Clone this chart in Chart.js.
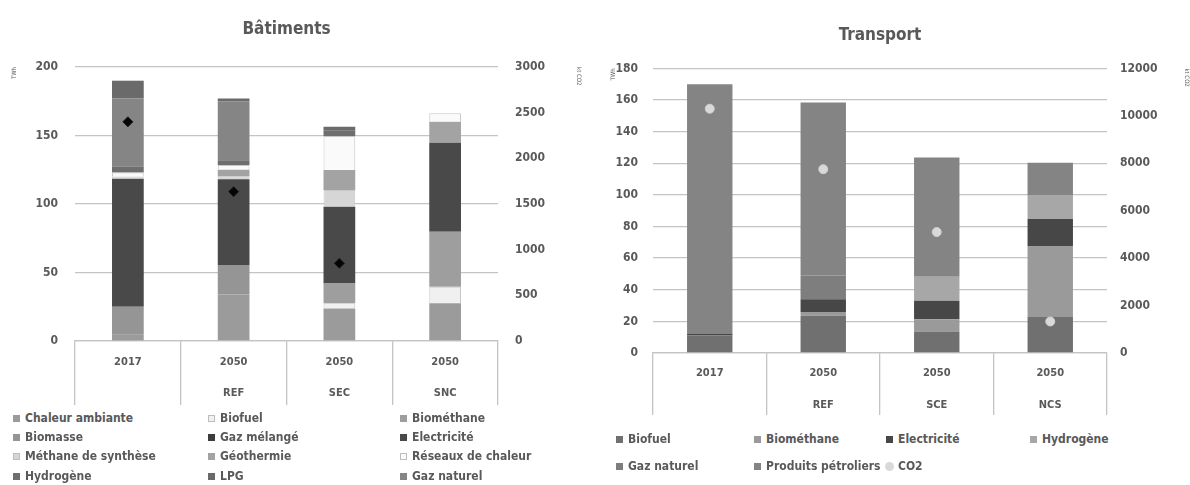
<!DOCTYPE html>
<html>
<head>
<meta charset="utf-8">
<script src="https://cdn.jsdelivr.net/npm/chart.js@4.4.1/dist/chart.umd.min.js"></script>
<style>
  body { margin: 0; width: 1190px; height: 485px; background: #fff; position: relative; overflow: hidden; }
  #wrapBat { position: absolute; left: 0; top: 0; }
  #wrapTra { position: absolute; left: 590px; top: 0; }
  .leg { position: absolute; height: 16px; line-height: 16px; white-space: nowrap; color: #595959;
         font: bold 12px "DejaVu Sans Condensed", "Liberation Sans Narrow", sans-serif; padding-left: 12px; }
  .leg i { position: absolute; left: 0; top: 4px; width: 7px; height: 7px; box-sizing: border-box; }
  .leg i.dot { border-radius: 50%; width: 9px; height: 9px; top: 3px; left: -1px; }
</style>
</head>
<body>
<div id="wrapBat"><canvas id="batiments" width="590" height="410"></canvas></div>
<div id="wrapTra"><canvas id="transport" width="600" height="425"></canvas></div>
<div id="legBat"></div>
<div id="legTra"></div>

<script>
"use strict";

// ---- Bâtiments (TWh, CO2 in kt on right axis) ----
const batCategories = [["2017"], ["2050", "REF"], ["2050", "SEC"], ["2050", "SNC"]];
const chaleurAmbiante = [5, 34, 23.8, 27.5];
const biofuel = [0, 0, 3.7, 12.1];
const biomethane = [0, 0, 14.5, 40.2];
const biomasse = [20, 21.5, 0, 0];
const gazMelange = [0, 0, 0, 0];
const electricite = [93.5, 62.5, 56, 64.9];
const methaneSynthese = [1.5, 2, 12.2, 0];
const geothermie = [0, 5, 14.6, 15.3];
const reseauxChaleur = [3, 3.5, 24.8, 6.2];
const hydrogene = [4.5, 3.5, 3.9, 0];
const lpg = [13, 2, 2.8, 0];
const gazNaturel = [49.5, 43, 0, 0];
const co2Batiments = [2400, 1635, 851, null];

// ---- Transport ----
const traCategories = [["2017"], ["2050", "REF"], ["2050", "SCE"], ["2050", "NCS"]];
const biofuelT = [11, 23.5, 13.6, 22.7];
const biomethaneT = [0, 2.5, 7.8, 44.6];
const electriciteT = [1, 8, 11.6, 17.4];
const hydrogeneT = [0, 0, 15.3, 15.2];
const gazNaturelT = [0, 15, 0, 0];
const produitsPetroliers = [158, 109.4, 75.4, 20.4];
const co2Transport = [10300, 7750, 5100, 1330];

const FONT = '"DejaVu Sans Condensed", "Liberation Sans Narrow", sans-serif';
const TXT = "#595959";
const GRID = "#c4c4c4";

// legend order (3 columns) and stacking order differ a little
const batSeries = [
  { label: "Chaleur ambiante", data: chaleurAmbiante, color: "#9b9b9b" },
  { label: "Biofuel", data: biofuel, color: "#f0f0f0", edge: true },
  { label: "Biométhane", data: biomethane, color: "#9e9e9e" },
  { label: "Biomasse", data: biomasse, color: "#959595" },
  { label: "Gaz mélangé", data: gazMelange, color: "#3c3c3c" },
  { label: "Electricité", data: electricite, color: "#494949" },
  { label: "Méthane de synthèse", data: methaneSynthese, color: "#d6d6d6", edge: true },
  { label: "Géothermie", data: geothermie, color: "#a3a3a3" },
  { label: "Réseaux de chaleur", data: reseauxChaleur, color: "#fafafa", edge: true },
  { label: "Hydrogène", data: hydrogene, color: "#6e6e6e" },
  { label: "LPG", data: lpg, color: "#6a6a6a" },
  { label: "Gaz naturel", data: gazNaturel, color: "#858585" }
];
const batStackOrder = ["Chaleur ambiante", "Biofuel", "Biométhane", "Biomasse", "Gaz mélangé", "Electricité",
  "Méthane de synthèse", "Géothermie", "Réseaux de chaleur", "Hydrogène", "Gaz naturel", "LPG"];

const traSeries = [
  { label: "Biofuel", data: biofuelT, color: "#707070" },
  { label: "Biométhane", data: biomethaneT, color: "#9a9a9a" },
  { label: "Electricité", data: electriciteT, color: "#474747" },
  { label: "Hydrogène", data: hydrogeneT, color: "#a7a7a7" },
  { label: "Gaz naturel", data: gazNaturelT, color: "#7e7e7e" },
  { label: "Produits pétroliers", data: produitsPetroliers, color: "#848484" }
];

const barSet = (s, bp, cp) => ({
  label: s.label,
  data: s.data,
  backgroundColor: s.color,
  borderColor: "#c8c8c8",
  borderWidth: s.edge ? 1 : 0,
  yAxisID: "y",
  barPercentage: bp,
  categoryPercentage: cp,
  order: 1
});

const plain = (v) => String(v);

const buildOptions = (o) => ({
  responsive: false,
  animation: false,
  layout: { padding: 0 },
  plugins: {
    legend: { display: false },
    tooltip: { enabled: false },
    title: {
      display: true, text: o.title, color: TXT, fullSize: false,
      font: { family: FONT, size: 17, weight: "bold", lineHeight: 1.2 },
      padding: o.titlePad
    }
  },
  scales: {
    x: {
      stacked: true,
      grid: { offset: true, drawOnChartArea: false, drawTicks: true, tickLength: o.boxDepth, color: GRID, lineWidth: 1.3 },
      border: { color: GRID, width: 1.3 },
      ticks: { color: TXT, font: { family: FONT, size: 11, weight: "bold", lineHeight: o.lineGap + "px" },
               padding: o.labelPad, autoSkip: false, maxRotation: 0 },
      afterFit: (s) => { s.height = o.xHeight; }
    },
    y: {
      stacked: true, min: 0, max: o.yMax,
      ticks: { stepSize: o.yStep, padding: o.yPad, color: TXT, callback: plain, font: { family: FONT, size: 12, weight: "bold" } },
      grid: { color: GRID, lineWidth: 1.3, drawTicks: false },
      border: { display: false },
      title: { display: true, text: "TWh", align: "end", color: TXT, font: { family: FONT, size: 6 }, padding: { top: o.yTitlePad } },
      afterFit: (s) => { s.width = o.yWidth; }
    },
    y1: {
      position: "right", min: 0, max: o.y1Max,
      ticks: { stepSize: o.y1Step, padding: o.y1Pad, color: TXT, callback: plain, font: { family: FONT, size: 12, weight: "bold" } },
      grid: { display: false, drawTicks: false },
      border: { display: false },
      title: { display: true, text: "kt CO2", align: "end", color: TXT, font: { family: FONT, size: 6 }, padding: { top: o.y1TitlePad } },
      afterFit: (s) => { s.width = o.y1Width; }
    }
  }
});

new Chart(document.getElementById("batiments"), {
  type: "bar",
  data: {
    labels: batCategories,
    datasets: [
      {
        type: "line", label: "CO2", data: co2Batiments, yAxisID: "y1", showLine: false,
        pointStyle: "rectRot", pointRadius: 5, pointBackgroundColor: "#050505", pointBorderColor: "#1a1a1a", order: 0
      },
      ...batStackOrder.map((n) => barSet(batSeries.find((s) => s.label === n), 0.5, 0.6))
    ]
  },
  options: buildOptions({
    title: "Bâtiments", titlePad: { top: 19, bottom: 27.6 },
    boxDepth: 64, lineGap: 31, labelPad: -58, xHeight: 69,
    yMax: 200, yStep: 50, yPad: 17, yWidth: 75, yTitlePad: 11,
    y1Max: 3000, y1Step: 500, y1Pad: 17, y1Width: 92, y1TitlePad: 8
  })
});

new Chart(document.getElementById("transport"), {
  type: "bar",
  data: {
    labels: traCategories,
    datasets: [
      {
        type: "line", label: "CO2", data: co2Transport, yAxisID: "y1", showLine: false,
        pointStyle: "circle", pointRadius: 4.5, pointBackgroundColor: "#d9d9d9", pointBorderColor: "#cfcfcf", order: 0
      },
      ...traSeries.map((s) => barSet(s, 0.5, 0.8))
    ]
  },
  options: buildOptions({
    title: "Transport", titlePad: { top: 25, bottom: 23 },
    boxDepth: 62, lineGap: 32, labelPad: -58, xHeight: 72,
    yMax: 180, yStep: 20, yPad: 15, yWidth: 63, yTitlePad: 20,
    y1Max: 12000, y1Step: 2000, y1Pad: 13, y1Width: 83, y1TitlePad: 0
  })
});

// ---- HTML legends ----
const addLegend = (holder, items, cols, rows) => {
  const box = document.getElementById(holder);
  items.forEach((it, i) => {
    const d = document.createElement("div");
    d.className = "leg";
    d.style.left = cols[i % cols.length] + "px";
    d.style.top = (rows[Math.floor(i / cols.length)] - 8) + "px";
    const sw = document.createElement("i");
    sw.style.background = it.color;
    if (it.edge) sw.style.border = "1px solid #bdbdbd";
    if (it.dot) sw.className = "dot";
    d.appendChild(sw);
    d.appendChild(document.createTextNode(it.label));
    box.appendChild(d);
  });
};

addLegend("legBat", batSeries, [13, 208, 400], [419, 438, 457, 477]);
addLegend("legTra", traSeries.concat([{ label: "CO2", color: "#d9d9d9", dot: true }]),
  [616, 754, 886, 1030], [440, 467]);
</script>
</body>
</html>
